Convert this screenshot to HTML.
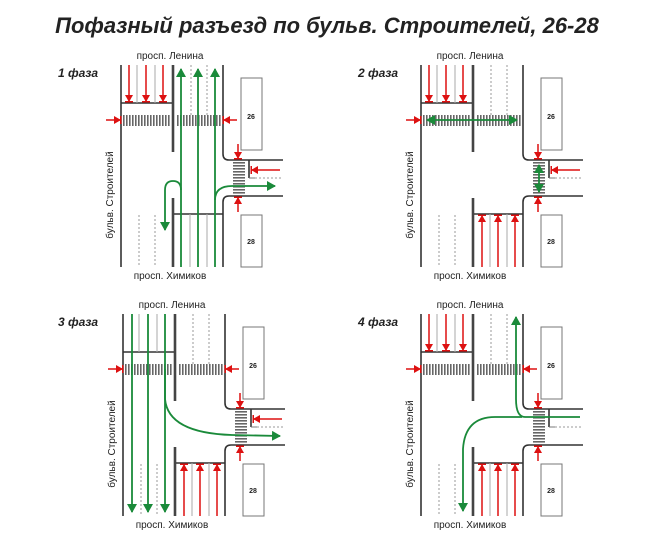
<!DOCTYPE html>
<html><head><meta charset="utf-8"><style>
html,body{margin:0;padding:0;background:#fff;}
svg{display:block;font-family:"Liberation Sans",sans-serif;}
</style></head><body>
<svg width="655" height="559" viewBox="0 0 655 559" xmlns="http://www.w3.org/2000/svg">
<defs>
<pattern id="zb" width="3" height="10" patternUnits="userSpaceOnUse"><rect width="1.6" height="10" fill="#666"/></pattern>
<pattern id="zv" width="10" height="3" patternUnits="userSpaceOnUse"><rect width="10" height="1.6" fill="#666"/></pattern>
<marker id="rh" markerWidth="8" markerHeight="8" refX="6" refY="4" orient="auto" markerUnits="userSpaceOnUse"><path d="M0,0 L7,4 L0,8 Z" fill="#d11"/><rect x="6" y="0" width="1.5" height="8" fill="#d11"/></marker>
<marker id="gh" markerWidth="10" markerHeight="10" refX="8" refY="5" orient="auto" markerUnits="userSpaceOnUse"><path d="M0,0 L9,5 L0,10 Z" fill="#1a8a3a"/></marker>
<marker id="ghs" markerWidth="10" markerHeight="10" refX="1" refY="5" orient="auto" markerUnits="userSpaceOnUse"><path d="M9,0 L0,5 L9,10 Z" fill="#1a8a3a"/></marker>
<g id="base">
 <g fill="none" stroke="#333" stroke-width="1.6">
  <line x1="121" y1="65" x2="121" y2="267"/>
  <path d="M223,65 V154 Q223,160 229,160 H283"/>
  <path d="M283,196 H229 Q223,196 223,202 V267"/>
  <line x1="121" y1="103" x2="173" y2="103"/>
  <line x1="173" y1="214" x2="223" y2="214"/>
  <line x1="249" y1="160" x2="249" y2="178"/>
 </g>
 <line x1="173" y1="65" x2="173" y2="152" stroke="#444" stroke-width="2.6"/>
 <line x1="173" y1="198" x2="173" y2="267" stroke="#444" stroke-width="2.6"/>
 <g stroke="#aaa" stroke-width="1">
  <line x1="137" y1="65" x2="137" y2="103"/><line x1="155" y1="65" x2="155" y2="103"/>
  <line x1="190" y1="214" x2="190" y2="267"/><line x1="207" y1="214" x2="207" y2="267"/>
 </g>
 <g stroke="#999" stroke-width="1" stroke-dasharray="2,2">
  <line x1="139" y1="215" x2="139" y2="267"/><line x1="155" y1="215" x2="155" y2="267"/>
  <line x1="191" y1="65" x2="191" y2="115"/><line x1="207" y1="65" x2="207" y2="115"/>
  <line x1="255" y1="178" x2="283" y2="178"/>
 </g>
 <line x1="249" y1="178" x2="255" y2="178" stroke="#777" stroke-width="1"/>
 <rect x="123" y="115" width="47" height="11" fill="url(#zb)"/>
 <rect x="176" y="115" width="45" height="11" fill="url(#zb)"/>
 <rect x="233" y="162" width="12" height="33" fill="url(#zv)"/>
 <rect x="241" y="78" width="21" height="72" fill="#fff" stroke="#777" stroke-width="1"/>
 <rect x="241" y="215" width="21" height="52" fill="#fff" stroke="#777" stroke-width="1"/>
 <g stroke="#d11" stroke-width="1.5">
  <line x1="106" y1="120" x2="120" y2="120" marker-end="url(#rh)"/>
  <line x1="238" y1="144" x2="238" y2="158" marker-end="url(#rh)"/>
  <line x1="238" y1="212" x2="238" y2="198" marker-end="url(#rh)"/>
 </g>
</g>
<g id="topred" stroke="#d11" stroke-width="1.5">
 <line x1="129" y1="65" x2="129" y2="101" marker-end="url(#rh)"/>
 <line x1="146" y1="65" x2="146" y2="101" marker-end="url(#rh)"/>
 <line x1="163" y1="65" x2="163" y2="101" marker-end="url(#rh)"/>
</g>
<g id="botred" stroke="#d11" stroke-width="1.5">
 <line x1="182" y1="267" x2="182" y2="216" marker-end="url(#rh)"/>
 <line x1="198" y1="267" x2="198" y2="216" marker-end="url(#rh)"/>
 <line x1="215" y1="267" x2="215" y2="216" marker-end="url(#rh)"/>
</g>
<g id="sidered" stroke="#d11" stroke-width="1.5"><line x1="280" y1="170" x2="252" y2="170" marker-end="url(#rh)"/></g>
<g id="rightred" stroke="#d11" stroke-width="1.5"><line x1="237" y1="120" x2="224" y2="120" marker-end="url(#rh)"/></g>
</defs>

<text x="327" y="33" text-anchor="middle" font-size="22" font-weight="bold" font-style="italic" fill="#222">Пофазный разъезд по бульв. Строителей, 26-28</text>

<!-- Panel 1 -->
<g>
 <use href="#base"/><use href="#topred"/><use href="#sidered"/><use href="#rightred"/>
 <g fill="none" stroke="#1a8a3a" stroke-width="1.8">
  <line x1="181" y1="267" x2="181" y2="69" marker-end="url(#gh)"/>
  <line x1="198" y1="267" x2="198" y2="69" marker-end="url(#gh)"/>
  <line x1="215" y1="267" x2="215" y2="69" marker-end="url(#gh)"/>
  <path d="M181,190 Q181,181 173,181 Q165,181 165,190 V230" marker-end="url(#gh)"/>
  <path d="M215,200 Q215,186 232,186 H275" marker-end="url(#gh)"/>
 </g>
</g>
<text x="58" y="77" font-size="12" font-weight="bold" font-style="italic" fill="#222">1 фаза</text>
<text x="170" y="59" text-anchor="middle" font-size="10" fill="#222">просп. Ленина</text>
<text x="170" y="279" text-anchor="middle" font-size="10" fill="#222">просп. Химиков</text>
<text transform="translate(113,195) rotate(-90)" text-anchor="middle" font-size="10" fill="#222">бульв. Строителей</text>
<text x="251" y="119" text-anchor="middle" font-size="7" font-weight="bold" fill="#222">26</text>
<text x="251" y="244" text-anchor="middle" font-size="7" font-weight="bold" fill="#222">28</text>

<!-- Panel 2 -->
<g transform="translate(300,0)">
 <use href="#base"/><use href="#topred"/><use href="#botred"/><use href="#sidered"/>
 <g stroke="#1a8a3a" stroke-width="1.8">
  <line x1="127" y1="120" x2="217" y2="120" marker-start="url(#ghs)" marker-end="url(#gh)"/>
  <line x1="239" y1="165" x2="239" y2="192" marker-start="url(#ghs)" marker-end="url(#gh)"/>
 </g>
</g>
<text x="358" y="77" font-size="12" font-weight="bold" font-style="italic" fill="#222">2 фаза</text>
<text x="470" y="59" text-anchor="middle" font-size="10" fill="#222">просп. Ленина</text>
<text x="470" y="279" text-anchor="middle" font-size="10" fill="#222">просп. Химиков</text>
<text transform="translate(413,195) rotate(-90)" text-anchor="middle" font-size="10" fill="#222">бульв. Строителей</text>
<text x="551" y="119" text-anchor="middle" font-size="7" font-weight="bold" fill="#222">26</text>
<text x="551" y="244" text-anchor="middle" font-size="7" font-weight="bold" fill="#222">28</text>

<!-- Panel 3 -->
<g transform="translate(2,249)">
 <use href="#base"/><use href="#botred"/><use href="#sidered"/><use href="#rightred"/>
 <g fill="none" stroke="#1a8a3a" stroke-width="1.8">
  <line x1="130" y1="65" x2="130" y2="263" marker-end="url(#gh)"/>
  <line x1="146" y1="65" x2="146" y2="263" marker-end="url(#gh)"/>
  <line x1="163" y1="65" x2="163" y2="263" marker-end="url(#gh)"/>
  <path d="M163,120 V150 Q166,184 230,186 L278,187" marker-end="url(#gh)"/>
 </g>
</g>
<text x="58" y="326" font-size="12" font-weight="bold" font-style="italic" fill="#222">3 фаза</text>
<text x="172" y="308" text-anchor="middle" font-size="10" fill="#222">просп. Ленина</text>
<text x="172" y="528" text-anchor="middle" font-size="10" fill="#222">просп. Химиков</text>
<text transform="translate(115,444) rotate(-90)" text-anchor="middle" font-size="10" fill="#222">бульв. Строителей</text>
<text x="253" y="368" text-anchor="middle" font-size="7" font-weight="bold" fill="#222">26</text>
<text x="253" y="493" text-anchor="middle" font-size="7" font-weight="bold" fill="#222">28</text>

<!-- Panel 4 -->
<g transform="translate(300,249)">
 <use href="#base"/><use href="#topred"/><use href="#botred"/><use href="#rightred"/>
 <g fill="none" stroke="#1a8a3a" stroke-width="1.8">
  <path d="M280,168 H225 Q216,168 216,150 V68" marker-end="url(#gh)"/>
  <path d="M222,168 H195 Q165,168 163,200 V262" marker-end="url(#gh)"/>
 </g>
</g>
<text x="358" y="326" font-size="12" font-weight="bold" font-style="italic" fill="#222">4 фаза</text>
<text x="470" y="308" text-anchor="middle" font-size="10" fill="#222">просп. Ленина</text>
<text x="470" y="528" text-anchor="middle" font-size="10" fill="#222">просп. Химиков</text>
<text transform="translate(413,444) rotate(-90)" text-anchor="middle" font-size="10" fill="#222">бульв. Строителей</text>
<text x="551" y="368" text-anchor="middle" font-size="7" font-weight="bold" fill="#222">26</text>
<text x="551" y="493" text-anchor="middle" font-size="7" font-weight="bold" fill="#222">28</text>
</svg>
</body></html>
